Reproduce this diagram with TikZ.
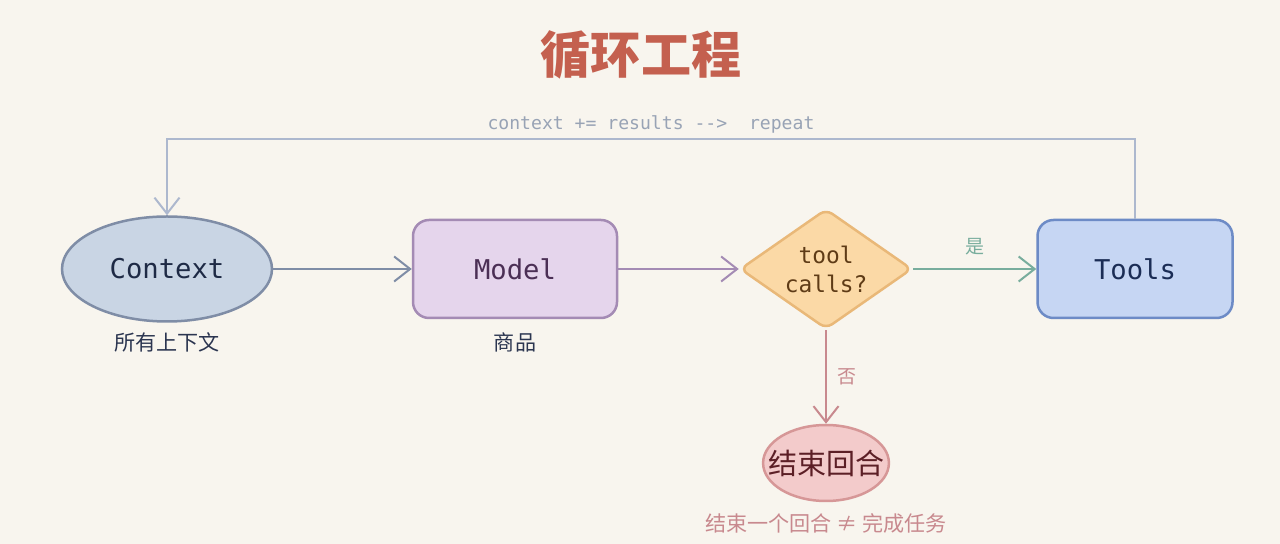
\documentclass[tikz,border=0pt]{standalone}
\usepackage{fontspec}
\setmonofont{DejaVu Sans Mono}
\newfontfamily\cjk{Noto Sans CJK SC}
\usetikzlibrary{arrows.meta,shapes.geometric}

\definecolor{bgcol}{HTML}{F8F5EE}
\definecolor{titlecol}{HTML}{C4604F}
\definecolor{fbline}{HTML}{ADB8CE}
\definecolor{fbtext}{HTML}{98A3B5}
\definecolor{ctxfill}{HTML}{C9D5E4}
\definecolor{ctxline}{HTML}{7F8DA6}
\definecolor{ctxtext}{HTML}{1E2A45}
\definecolor{modelfill}{HTML}{E5D5EC}
\definecolor{modelline}{HTML}{A48BB4}
\definecolor{modeltext}{HTML}{4B2F55}
\definecolor{callsfill}{HTML}{FBD9A6}
\definecolor{callsline}{HTML}{E9B878}
\definecolor{callstext}{HTML}{5E3B16}
\definecolor{toolsfill}{HTML}{C6D6F3}
\definecolor{toolsline}{HTML}{6D8BC6}
\definecolor{toolstext}{HTML}{1B2D55}
\definecolor{stopfill}{HTML}{F3CBCB}
\definecolor{stopline}{HTML}{D69797}
\definecolor{stoptext}{HTML}{5C1F26}
\definecolor{notecol}{HTML}{2B3550}
\definecolor{nocol}{HTML}{C8898E}
\definecolor{yescol}{HTML}{78AD9D}

\begin{document}
\begin{tikzpicture}[x=0.2mm, y=-0.2mm,
    >={Straight Barb[length=3.2mm,width=5mm]}]
      \fill[bgcol] (0,0) rectangle (1280,544);
      \node (title) at (641,55)
        {\cjk\bfseries\fontsize{28.5}{32}\selectfont\color{titlecol}循环工程};
      \node (fb) at (651,124)
        {\ttfamily\fontsize{10.3}{12}\selectfont\color{fbtext}context += results -->~~repeat};
      \coordinate (top) at (651,139);
      \begin{scope}[every node/.style={draw,line width=0.5mm,
          font=\ttfamily\fontsize{15.5}{18}\selectfont}]
        \node (ctx) [ellipse, fill=ctxfill, draw=ctxline, text=ctxtext,
          minimum width=42mm, minimum height=21mm] at (167,269) {Context};
        \node (model) [right of= ctx, node distance=69.6mm, rectangle,
          rounded corners=3.2mm, fill=modelfill, draw=modelline, text=modeltext,
          minimum width=40.8mm, minimum height=19.6mm] {Model};
        \node (calls) [right of= model, node distance=62.2mm, diamond, aspect=1.43,
          inner sep=0pt, rounded corners=1.5mm, fill=callsfill, draw=callsline,
          text=callstext, minimum width=34.4mm, minimum height=24mm, align=center,
          font=\ttfamily\fontsize{13}{16.5}\selectfont] {tool\\calls?};
        \node (tools) [right of= calls, node distance=61.8mm, rectangle,
          rounded corners=3.2mm, fill=toolsfill, draw=toolsline, text=toolstext,
          minimum width=39mm, minimum height=19.6mm] {Tools};
        \node (stop) [below of= calls, node distance=38.8mm, ellipse,
          inner xsep=-2.7mm, inner ysep=0pt, fill=stopfill, draw=stopline,
          text=stoptext, minimum width=24.8mm, minimum height=15.2mm,
          font=\cjk\fontsize{16.5}{18}\selectfont] {结束回合};
      \end{scope}
      \begin{scope}[every node/.style={font=\cjk\fontsize{12}{14}\selectfont}]
        \node (ctxnote) [below of= ctx, node distance=14.6mm, text=notecol] {所有上下文};
        \node (modelnote) [below of= model, node distance=14.6mm, text=notecol] {商品};
        \node (stopnote) [below of= stop, node distance=12mm, text=nocol]
          {结束一个回合 ≠ 完成任务};
      \end{scope}
      \begin{scope}
        [every edge/.style={draw, line width=0.4mm, ->},
        every node/.style={font=\cjk\fontsize{10.8}{12}\selectfont}]
        \path (ctx) edge[draw=ctxline] (model);
        \path (model) edge[draw=modelline] (calls);
        \path (calls) edge[draw=yescol] node (yes) [above=1.5mm, text=yescol] {是} (tools);
        \path (calls) edge[draw=nocol] node (no) [right=1mm, text=nocol] {否} (stop);
        \draw[fbline, line width=0.4mm, ->] (tools.north) |- (top) -| (ctx.north);
      \end{scope}
    \end{tikzpicture}
\end{document}
